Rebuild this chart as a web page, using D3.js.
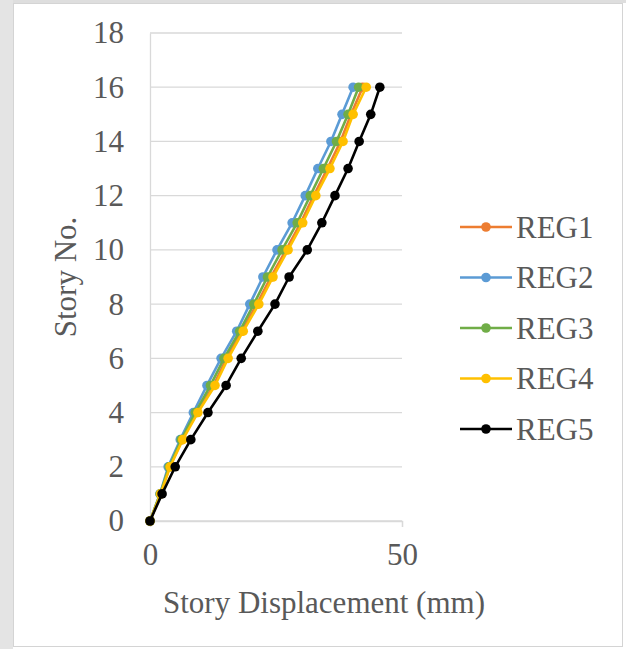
<!DOCTYPE html>
<html>
<head>
<meta charset="utf-8">
<script src="https://cdn.jsdelivr.net/npm/d3@7"></script>
<style>
  html, body { margin: 0; padding: 0; background: #ffffff; }
  svg { display: block; }
  text { font-family: "Liberation Serif", "Times New Roman", serif; fill: #595959; }
</style>
</head>
<body>
<svg id="chart" width="626" height="649"></svg>
<script>
// Story levels (0 = base)
const stories = d3.range(0, 17);

// Lateral story displacement (mm) per building model
const reg1 = [0, 2.1, 3.9, 6.4, 9.3, 12.6, 15.2, 18.2, 21.2, 24.0, 27.0, 29.9, 32.5, 35.2, 37.8, 39.9, 42.2];
const reg2 = [0, 2.0, 3.6, 6.0, 8.6, 11.3, 14.1, 17.2, 19.8, 22.4, 25.2, 28.2, 30.8, 33.3, 35.9, 38.1, 40.3];
const reg3 = [0, 2.0, 3.8, 6.2, 9.0, 12.0, 14.7, 17.8, 20.6, 23.3, 26.2, 29.2, 31.8, 34.4, 37.0, 39.3, 41.4];
const reg4 = [0, 2.1, 4.0, 6.5, 9.5, 12.9, 15.5, 18.5, 21.6, 24.4, 27.4, 30.3, 32.9, 35.7, 38.3, 40.3, 42.9];
const reg5 = [0, 2.4, 5.0, 8.1, 11.5, 15.1, 18.1, 21.4, 24.8, 27.6, 31.2, 34.1, 36.7, 39.3, 41.5, 43.8, 45.6];

const seriesNames = ["REG1", "REG2", "REG3", "REG4", "REG5"];
const seriesColors = ["#ED7D31", "#5B9BD5", "#70AD47", "#FFC000", "#000000"];

const xTicks = [0, 50];
const yTicks = [0, 2, 4, 6, 8, 10, 12, 14, 16, 18];

const xTitle = "Story Displacement (mm)";
const yTitle = "Story No.";

const series = seriesNames.map((name, i) => ({
  name,
  color: seriesColors[i],
  values: [reg1, reg2, reg3, reg4, reg5][i].map((d, j) => ({ x: d, y: stories[j] }))
}));

const svg = d3.select("#chart");
const fontSize = 31;

// page frame
svg.append("rect").attr("x", 0).attr("y", 0).attr("width", 13).attr("height", 649).attr("fill", "#e4e4e4");
svg.append("rect").attr("x", 13).attr("y", 0).attr("width", 613).attr("height", 3).attr("fill", "#dedede");
svg.append("rect").attr("x", 13.5).attr("y", 3.5).attr("width", 609).attr("height", 643)
  .attr("fill", "#ffffff").attr("stroke", "#d4d4d4").attr("stroke-width", 1);

const plot = { left: 150, right: 402, top: 33, bottom: 521 };

const x = d3.scaleLinear().domain([0, 50]).range([plot.left, plot.right]);
const y = d3.scaleLinear().domain([0, 18]).range([plot.bottom, plot.top]);

// horizontal gridlines
svg.append("g")
  .selectAll("line")
  .data(yTicks)
  .join("line")
  .attr("x1", plot.left).attr("x2", plot.right)
  .attr("y1", d => y(d)).attr("y2", d => y(d))
  .attr("stroke", "#d9d9d9").attr("stroke-width", 1.3);

// x axis with outward ticks
const xAxis = svg.append("g")
  .attr("transform", `translate(0,${plot.bottom})`)
  .call(d3.axisBottom(x).tickValues(xTicks).tickSize(6).tickPadding(16).tickFormat(d3.format("d")));
xAxis.select(".domain").attr("stroke", "#d9d9d9").attr("stroke-width", 1.3);
xAxis.selectAll(".tick line").attr("stroke", "#d9d9d9").attr("stroke-width", 1.3);
xAxis.selectAll(".tick text").attr("font-size", fontSize).attr("fill", "#595959")
  .attr("font-family", "Liberation Serif").attr("dy", "0.71em");

// y axis
const yAxis = svg.append("g")
  .attr("transform", `translate(${plot.left},0)`)
  .call(d3.axisLeft(y).tickValues(yTicks).tickSize(0).tickPadding(26).tickFormat(d3.format("d")));
yAxis.select(".domain").attr("stroke", "#d9d9d9").attr("stroke-width", 1.3);
yAxis.selectAll(".tick text").attr("font-size", fontSize).attr("fill", "#595959")
  .attr("font-family", "Liberation Serif");

// axis titles
svg.append("text")
  .attr("x", 324).attr("y", 613)
  .attr("text-anchor", "middle").attr("font-size", fontSize)
  .text(xTitle);

svg.append("text")
  .attr("transform", `translate(76,${(plot.top + plot.bottom) / 2}) rotate(-90)`)
  .attr("text-anchor", "middle").attr("font-size", fontSize)
  .text(yTitle);

// series lines and markers
const line = d3.line().x(d => x(d.x)).y(d => y(d.y));

const g = svg.append("g");
series.forEach(s => {
  g.append("path")
    .datum(s.values)
    .attr("fill", "none")
    .attr("stroke", s.color)
    .attr("stroke-width", 2.6)
    .attr("stroke-linejoin", "round")
    .attr("d", line);
  g.append("g")
    .selectAll("circle")
    .data(s.values)
    .join("circle")
    .attr("cx", d => x(d.x)).attr("cy", d => y(d.y))
    .attr("r", 4.8)
    .attr("fill", s.color);
});

// legend
const legend = svg.append("g");
const legendY = d3.scalePoint().domain(seriesNames).range([227, 429]);
const lg = legend.selectAll("g")
  .data(series)
  .join("g")
  .attr("transform", d => `translate(0,${legendY(d.name)})`);
lg.append("line")
  .attr("x1", 460).attr("x2", 512).attr("y1", 0).attr("y2", 0)
  .attr("stroke", d => d.color).attr("stroke-width", 2.6);
lg.append("circle")
  .attr("cx", 486).attr("cy", 0).attr("r", 4.8)
  .attr("fill", d => d.color);
lg.append("text")
  .attr("x", 516).attr("y", 0).attr("dy", "0.35em")
  .attr("font-size", fontSize)
  .text(d => d.name);
</script>
</body>
</html>
